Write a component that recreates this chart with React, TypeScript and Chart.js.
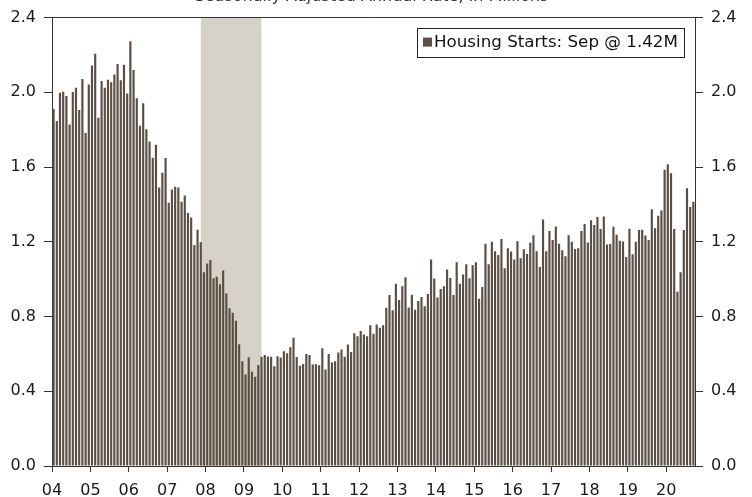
import React, { useEffect, useRef } from "react";
import { Chart, registerables } from "chart.js";

Chart.register(...registerables);

// Housing starts, SAAR, millions — monthly, Jan 2004 .. Sep 2020
const hs2004 = [1.911, 1.846, 1.998, 2.003, 1.981, 1.828, 2.002, 2.024, 1.905, 2.072, 1.782, 2.042];
const hs2005 = [2.144, 2.207, 1.864, 2.061, 2.025, 2.068, 2.054, 2.095, 2.151, 2.065, 2.147, 1.994];
const hs2006 = [2.273, 2.119, 1.969, 1.821, 1.942, 1.802, 1.737, 1.65, 1.72, 1.491, 1.57, 1.649];
const hs2007 = [1.409, 1.48, 1.495, 1.49, 1.415, 1.448, 1.354, 1.33, 1.183, 1.264, 1.197, 1.037];
const hs2008 = [1.084, 1.103, 1.005, 1.013, 0.973, 1.046, 0.923, 0.844, 0.82, 0.777, 0.652, 0.56];
const hs2009 = [0.49, 0.582, 0.505, 0.478, 0.54, 0.585, 0.594, 0.586, 0.585, 0.534, 0.588, 0.581];
const hs2010 = [0.614, 0.604, 0.636, 0.687, 0.583, 0.536, 0.546, 0.599, 0.594, 0.543, 0.545, 0.539];
const hs2011 = [0.63, 0.517, 0.6, 0.554, 0.561, 0.608, 0.623, 0.585, 0.65, 0.61, 0.711, 0.694];
const hs2012 = [0.723, 0.704, 0.695, 0.753, 0.708, 0.757, 0.74, 0.754, 0.847, 0.915, 0.833, 0.976];
const hs2013 = [0.888, 0.962, 1.01, 0.849, 0.917, 0.836, 0.883, 0.905, 0.855, 0.921, 1.105, 1.003];
const hs2014 = [0.902, 0.948, 0.962, 1.052, 1.006, 0.915, 1.09, 0.975, 1.025, 1.08, 1.005, 1.075];
const hs2015 = [1.09, 0.895, 0.958, 1.19, 1.08, 1.2, 1.15, 1.13, 1.215, 1.058, 1.166, 1.148];
const hs2016 = [1.105, 1.203, 1.112, 1.16, 1.135, 1.195, 1.235, 1.15, 1.065, 1.32, 1.149, 1.258];
const hs2017 = [1.21, 1.282, 1.19, 1.155, 1.122, 1.235, 1.2, 1.162, 1.165, 1.258, 1.295, 1.196];
const hs2018 = [1.315, 1.29, 1.333, 1.268, 1.336, 1.185, 1.188, 1.28, 1.238, 1.205, 1.202, 1.118];
const hs2019 = [1.27, 1.133, 1.2, 1.263, 1.265, 1.234, 1.21, 1.374, 1.272, 1.339, 1.368, 1.585];
const hs2020 = [1.615, 1.567, 1.268, 0.932, 1.037, 1.263, 1.487, 1.386, 1.415];

const yearLabels = ["04", "05", "06", "07", "08", "09", "10", "11", "12", "13", "14", "15", "16", "17", "18", "19", "20"];
const monthNames = ["Jan", "Feb", "Mar", "Apr", "May", "Jun", "Jul", "Aug", "Sep", "Oct", "Nov", "Dec"];
const yTicks = [0, 0.4, 0.8, 1.2, 1.6, 2.0, 2.4];

// recession: Dec 2007 - Jun 2009 (month indexes from Jan 2004)
const recessionStart = 46;
const recessionEnd = 65;

const titleText = "Seasonally Adjusted Annual Rate, In Millions";
const seriesLabel = "Housing Starts: Sep @ 1.42M";

const values = [
  ...hs2004, ...hs2005, ...hs2006, ...hs2007, ...hs2008, ...hs2009, ...hs2010, ...hs2011,
  ...hs2012, ...hs2013, ...hs2014, ...hs2015, ...hs2016, ...hs2017, ...hs2018, ...hs2019, ...hs2020,
];
const labels = values.map((_, i) => `${monthNames[i % 12]} ${yearLabels[Math.floor(i / 12)]}`);

const BAR = "#5b4e44";
const AXIS = "#333333";
const FONT = "'DejaVu Sans', Verdana, sans-serif";

const decorPlugin = {
  id: "decor",
  beforeDatasetsDraw(chart: any) {
    const { ctx, chartArea } = chart;
    const x = chart.scales.x;
    const l = x.getPixelForValue(recessionStart);
    const r = x.getPixelForValue(recessionEnd);
    ctx.save();
    ctx.fillStyle = "#d6d2c7";
    ctx.fillRect(l, chartArea.top, r - l, chartArea.bottom - chartArea.top);
    ctx.restore();
  },
  afterDraw(chart: any) {
    const { ctx, chartArea } = chart;
    ctx.save();
    // top frame
    ctx.strokeStyle = AXIS;
    ctx.lineWidth = 1;
    ctx.beginPath();
    ctx.moveTo(chartArea.left, Math.round(chartArea.top) - 0.5);
    ctx.lineTo(chartArea.right, Math.round(chartArea.top) - 0.5);
    ctx.stroke();

    // title (cut off at top)
    ctx.fillStyle = "#333333";
    ctx.font = `16px ${FONT}`;
    ctx.textAlign = "center";
    ctx.textBaseline = "alphabetic";
    ctx.fillText(titleText, 371.5, 0.5);

    // legend box
    const bx = chartArea.right - 278;
    const by = chartArea.top + 10;
    const bw = 267;
    const bh = 29;
    ctx.fillStyle = "#ffffff";
    ctx.fillRect(bx, by, bw, bh);
    ctx.strokeStyle = "#222222";
    ctx.strokeRect(Math.round(bx) + 0.5, Math.round(by) + 0.5, bw, bh);
    ctx.fillStyle = BAR;
    ctx.fillRect(bx + 6, by + 10, 9, 9);
    ctx.fillStyle = "#111111";
    ctx.textAlign = "left";
    ctx.textBaseline = "middle";
    ctx.font = `16.7px ${FONT}`;
    ctx.fillText(seriesLabel, bx + 17, by + bh / 2 + 1);
    ctx.restore();
  },
};

export default function App() {
  const ref = useRef<HTMLCanvasElement | null>(null);

  useEffect(() => {
    if (!ref.current) return;
    Chart.defaults.font.family = FONT;
    Chart.defaults.font.size = 16;
    Chart.defaults.color = "#1a1a1a";

    const yAxis = (position: "left" | "right", width: number) => ({
      type: "linear" as const,
      position,
      min: 0,
      max: 2.4,
      afterBuildTicks(scale: any) {
        scale.ticks = yTicks.map((v) => ({ value: v }));
      },
      afterFit(scale: any) {
        scale.width = width;
      },
      ticks: {
        callback: (v: any) => Number(v).toFixed(1),
        padding: 8,
        color: "#1a1a1a",
        font: { size: 16, family: FONT },
      },
      grid: {
        drawOnChartArea: false,
        drawTicks: true,
        tickLength: 8,
        color: AXIS,
      },
      border: { display: true, color: AXIS, width: 1 },
    });

    const chart = new Chart(ref.current, {
      type: "bar",
      data: {
        labels,
        datasets: [
          {
            label: seriesLabel,
            data: values,
            backgroundColor: BAR,
            borderWidth: 0,
            categoryPercentage: 1,
            barPercentage: 0.68,
            xAxisID: "x",
            yAxisID: "y",
          },
        ],
      },
      options: {
        responsive: false,
        animation: false,
        events: [],
        layout: { padding: { top: 14, left: 0, right: 0, bottom: 0 } },
        plugins: {
          legend: { display: false },
          tooltip: { enabled: false },
          title: { display: false },
        },
        scales: {
          x: {
            type: "category",
            display: false,
            offset: true,
          },
          xt: {
            type: "linear",
            position: "bottom",
            offset: false,
            min: 0,
            max: values.length,
            afterBuildTicks(scale: any) {
              scale.ticks = yearLabels.map((_, i) => ({ value: i * 12 }));
            },
            afterFit(scale: any) {
              scale.height = 31;
            },
            ticks: {
              autoSkip: false,
              maxRotation: 0,
              padding: 9,
              callback: (v: any) => yearLabels[Math.round(Number(v) / 12)] ?? "",
              color: "#1a1a1a",
              font: { size: 16, family: FONT },
            },
            grid: {
              offset: false,
              drawOnChartArea: false,
              drawTicks: true,
              tickLength: 6,
              color: AXIS,
            },
            border: { display: true, color: AXIS, width: 1 },
          },
          y: yAxis("left", 52),
          y2: yAxis("right", 57),
        },
      },
      plugins: [decorPlugin],
    } as any);

    return () => chart.destroy();
  }, []);

  return (
    <div style={{ position: "absolute", left: 0, top: 0, width: 752, height: 497, background: "#ffffff" }}>
      <canvas ref={ref} width={752} height={497} style={{ width: 752, height: 497, display: "block" }} />
    </div>
  );
}
